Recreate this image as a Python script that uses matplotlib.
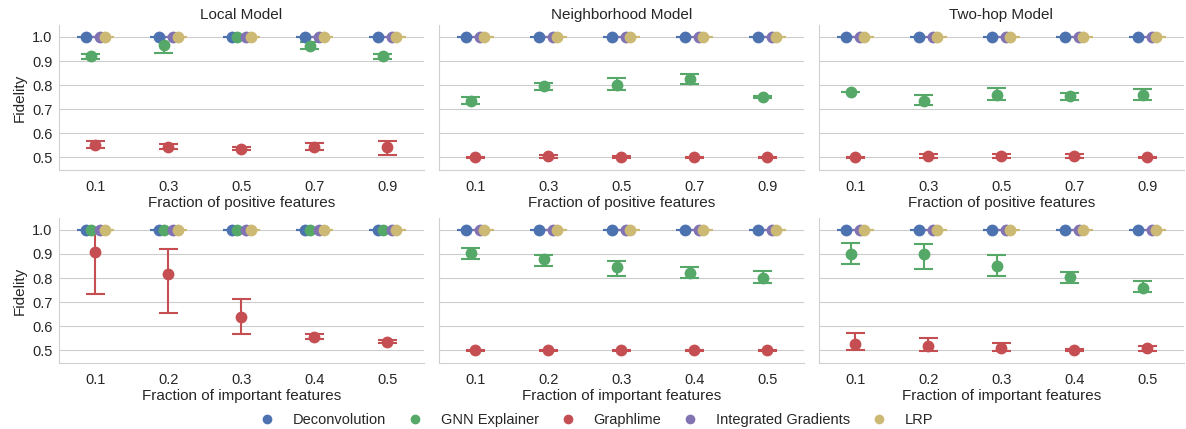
import numpy as np
import matplotlib
matplotlib.use("Agg")
import matplotlib.pyplot as plt
import seaborn as sns

sns.set_style("whitegrid")
plt.rcParams['font.family'] = ['Liberation Sans', 'DejaVu Sans']

# Explainers and colours (seaborn "deep")
methods = ['Deconvolution', 'GNN Explainer', 'Graphlime', 'Integrated Gradients', 'LRP']
colors = ['#4C72B0', '#55A868', '#C44E52', '#8172B2', '#CCB974']

models = ['Local Model', 'Neighborhood Model', 'Two-hop Model']
pos_fracs = ['0.1', '0.3', '0.5', '0.7', '0.9']
imp_fracs = ['0.1', '0.2', '0.3', '0.4', '0.5']

ones = [1.0, 1.0, 1.0, 1.0, 1.0]

# Row 1: fraction of positive features -- mean, lower, upper for GNN Explainer and Graphlime
pos_gnn_mean = [[0.920, 0.967, 1.000, 0.964, 0.920],
                [0.736, 0.795, 0.800, 0.825, 0.750],
                [0.771, 0.736, 0.757, 0.753, 0.761]]
pos_gnn_lo = [[0.910, 0.935, 1.000, 0.949, 0.910],
              [0.722, 0.780, 0.778, 0.803, 0.745],
              [0.771, 0.718, 0.740, 0.739, 0.740]]
pos_gnn_hi = [[0.930, 1.000, 1.000, 0.980, 0.930],
              [0.750, 0.810, 0.829, 0.846, 0.755],
              [0.771, 0.757, 0.788, 0.768, 0.785]]
pos_gl_mean = [[0.550, 0.545, 0.537, 0.545, 0.545],
               [0.500, 0.505, 0.500, 0.500, 0.500],
               [0.500, 0.506, 0.506, 0.507, 0.500]]
pos_gl_lo = [[0.538, 0.535, 0.530, 0.530, 0.512],
             [0.497, 0.498, 0.496, 0.497, 0.497],
             [0.497, 0.497, 0.497, 0.498, 0.497]]
pos_gl_hi = [[0.570, 0.555, 0.545, 0.560, 0.568],
             [0.503, 0.512, 0.504, 0.503, 0.503],
             [0.503, 0.515, 0.515, 0.515, 0.503]]

# Row 2: fraction of important features
imp_gnn_mean = [[1.000, 1.000, 1.000, 1.000, 1.000],
                [0.904, 0.879, 0.846, 0.821, 0.800],
                [0.902, 0.902, 0.851, 0.804, 0.760]]
imp_gnn_lo = [[1.000, 1.000, 1.000, 1.000, 1.000],
              [0.881, 0.851, 0.810, 0.799, 0.780],
              [0.860, 0.838, 0.807, 0.780, 0.742]]
imp_gnn_hi = [[1.000, 1.000, 1.000, 1.000, 1.000],
              [0.923, 0.895, 0.873, 0.846, 0.829],
              [0.945, 0.941, 0.894, 0.824, 0.789]]
imp_gl_mean = [[0.909, 0.817, 0.638, 0.557, 0.536],
               [0.500, 0.500, 0.500, 0.500, 0.500],
               [0.526, 0.518, 0.511, 0.501, 0.508]]
imp_gl_lo = [[0.734, 0.654, 0.570, 0.548, 0.532],
             [0.497, 0.497, 0.497, 0.497, 0.497],
             [0.501, 0.499, 0.499, 0.498, 0.499]]
imp_gl_hi = [[1.000, 0.921, 0.715, 0.567, 0.542],
             [0.503, 0.503, 0.503, 0.503, 0.503],
             [0.574, 0.552, 0.530, 0.504, 0.519]]

fig, axes = plt.subplots(2, 3, figsize=(11.86, 4.29), dpi=100, sharey=True)
fig.subplots_adjust(left=0.0497, right=0.998, bottom=0.154, top=0.942,
                    wspace=0.041, hspace=0.33)

offsets = np.linspace(-0.125, 0.125, len(methods))
cap_half = 0.13  # half cap width, in category units


def draw_panel(ax, labels, gnn, gl):
    x = np.arange(len(labels))
    series = [(ones, ones, ones), gnn, gl, (ones, ones, ones), (ones, ones, ones)]
    for i, (mean, lo, hi) in enumerate(series):
        xs = x + offsets[i]
        # error bar stems and caps
        ax.vlines(xs, lo, hi, color=colors[i], lw=1.5, zorder=2 + i * 0.1)
        ax.hlines(lo, xs - cap_half, xs + cap_half, color=colors[i], lw=1.5, zorder=2 + i * 0.1)
        ax.hlines(hi, xs - cap_half, xs + cap_half, color=colors[i], lw=1.5, zorder=2 + i * 0.1)
        ax.plot(xs, mean, 'o', color=colors[i], ms=8.5, mew=0, zorder=3 + i * 0.1)
    ax.set_xticks(x)
    ax.set_xticklabels(labels)
    ax.set_xlim(-0.5, len(labels) - 0.5)
    ax.xaxis.grid(False)
    ax.tick_params(axis='x', labelsize=10.5, pad=4)
    ax.tick_params(axis='y', labelsize=10.5, pad=1)
    sns.despine(ax=ax)
    for sp in ax.spines.values():
        sp.set_color('#d0d0d0')


for j in range(3):
    draw_panel(axes[0, j], pos_fracs,
               (pos_gnn_mean[j], pos_gnn_lo[j], pos_gnn_hi[j]),
               (pos_gl_mean[j], pos_gl_lo[j], pos_gl_hi[j]))
    axes[0, j].set_title(models[j], fontsize=11, pad=4)
    axes[0, j].set_xlabel('Fraction of positive features', fontsize=11, labelpad=1)
    draw_panel(axes[1, j], imp_fracs,
               (imp_gnn_mean[j], imp_gnn_lo[j], imp_gnn_hi[j]),
               (imp_gl_mean[j], imp_gl_lo[j], imp_gl_hi[j]))
    axes[1, j].set_xlabel('Fraction of important features', fontsize=11, labelpad=1)

for ax in axes[:, 0]:
    ax.set_ylabel('Fidelity', fontsize=11, labelpad=4)
axes[0, 0].set_ylim(0.448, 1.05)
axes[0, 0].set_yticks([0.5, 0.6, 0.7, 0.8, 0.9, 1.0])

handles = [plt.Line2D([], [], marker='o', ls='', color=c, ms=7, mew=0) for c in colors]
fig.legend(handles, methods, loc='center', bbox_to_anchor=(0.5, 0.021), ncol=5,
           frameon=False, fontsize=10.5, handletextpad=0.75, columnspacing=1.0)

fig.savefig('out.png', dpi=100)
